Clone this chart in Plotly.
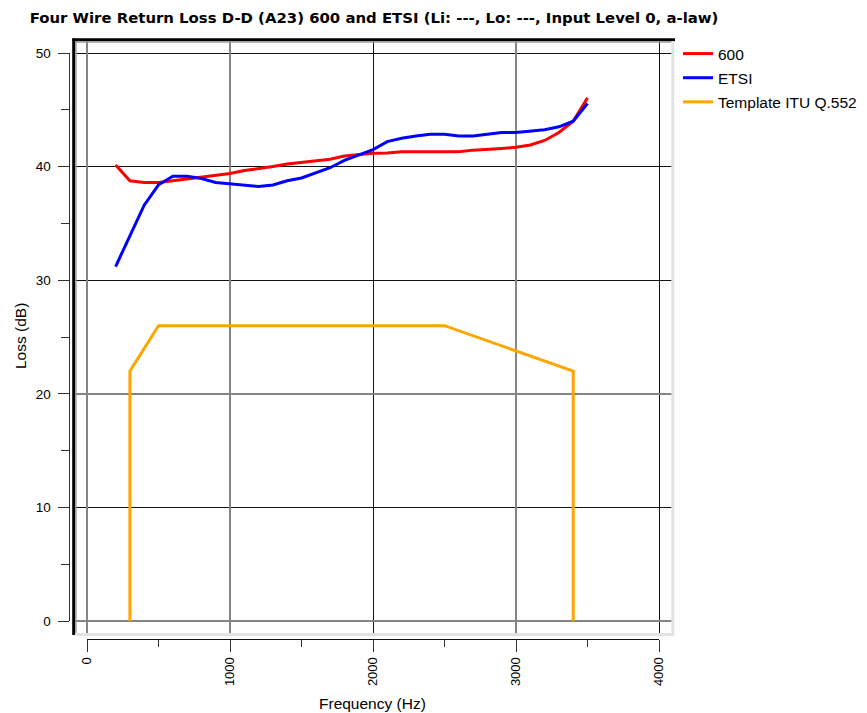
import plotly.graph_objects as go

# The page body has an 8px margin; the figure is sized to fill the rest of the window
OFF = 8
W, H = 867 - OFF, 713 - OFF

freq = [200, 300, 400, 500, 600, 700, 800, 900, 1000, 1100, 1200, 1300, 1400, 1500,
        1600, 1700, 1800, 1900, 2000, 2100, 2200, 2300, 2400, 2500, 2600, 2700, 2800,
        2900, 3000, 3100, 3200, 3300, 3400, 3500]
loss_600 = [40.15, 38.75, 38.6, 38.6, 38.75, 38.9, 39.1, 39.25, 39.4, 39.65, 39.8, 40.0,
            40.23, 40.38, 40.5, 40.64, 40.93, 41.05, 41.17, 41.2, 41.3, 41.3, 41.3, 41.3,
            41.3, 41.45, 41.5, 41.6, 41.7, 41.9, 42.3, 43.0, 44.0, 46.05]
loss_etsi = [31.2, 33.9, 36.6, 38.4, 39.15, 39.15, 38.95, 38.6, 38.5, 38.38, 38.25, 38.38,
             38.75, 39.0, 39.47, 39.9, 40.55, 41.05, 41.5, 42.2, 42.5, 42.7, 42.85, 42.85,
             42.7, 42.7, 42.85, 43.0, 43.0, 43.1, 43.25, 43.5, 44.0, 45.55]
tmpl_f = [300, 300, 500, 2500, 3400, 3400]
tmpl_l = [0, 22, 26, 26, 22, 0]

x_ticks = [0, 1000, 2000, 3000, 4000]
y_ticks = [0, 10, 20, 30, 40, 50]
x_minor = [500, 1500, 2500, 3500]
y_minor = [5, 15, 25, 35, 45]
# grid lines that render dark vs. soft grey in the reference
x_grid_dark = [2000, 4000]
x_grid_soft = [0, 1000, 3000]
y_grid_dark = [10, 30, 40, 50]
y_grid_soft = [0, 20]

FONT = "Liberation Sans, Arial, sans-serif"
TFONT = "DejaVu Sans, Liberation Sans, sans-serif"

def px_x(p):
    return (p - OFF) / W

def px_y(p):
    return 1 - (p - OFF) / H

# plot frame (window pixels)
L, R, T, B = 73, 672, 39, 634
x0p, x4p = 87, 659   # pixel of 0 Hz and 4000 Hz
y0p, y50p = 621, 53  # pixel of 0 dB and 50 dB
sx = (x4p - x0p) / 4000.0
sy = (y0p - y50p) / 50.0
xr = [(L - x0p) / sx, (R - x0p) / sx]
yr = [-(B - y0p) / sy, 50 + (y50p - T) / sy]

fig = go.Figure()
fig.add_trace(go.Scatter(x=freq, y=loss_600, mode="lines", name="600",
                         line=dict(color="#ff0000", width=3), legendgroup="a"))
fig.add_trace(go.Scatter(x=freq, y=loss_etsi, mode="lines", name="ETSI",
                         line=dict(color="#0000ff", width=3), legendgroup="b"))
fig.add_trace(go.Scatter(x=tmpl_f, y=tmpl_l, mode="lines", name="Template ITU Q.552",
                         line=dict(color="#ffa500", width=3), legendgroup="c"))
# dummy traces to host the offset tick axes and the soft grid overlay
fig.add_trace(go.Scatter(x=[None], y=[None], xaxis="x2", yaxis="y2",
                         showlegend=False, hoverinfo="skip"))
fig.add_trace(go.Scatter(x=[None], y=[None], xaxis="x3", yaxis="y3",
                         showlegend=False, hoverinfo="skip"))

base = dict(zeroline=False, showline=False, ticks="", showticklabels=False, fixedrange=True)

fig.update_layout(
    width=W, height=H, autosize=False,
    margin=dict(l=0, r=0, t=0, b=0, pad=0, autoexpand=False),
    paper_bgcolor="white", plot_bgcolor="rgba(0,0,0,0)",
    font=dict(family=FONT, size=13, color="black"),
    xaxis=dict(domain=[px_x(L), px_x(R)], range=xr, tickvals=x_grid_dark,
               showgrid=True, gridcolor="#111111", gridwidth=1, **base),
    yaxis=dict(domain=[px_y(B), px_y(T)], range=yr, tickvals=y_grid_dark,
               showgrid=True, gridcolor="#111111", gridwidth=1, **base),
    xaxis3=dict(overlaying="x", range=xr, tickvals=x_grid_soft, anchor="y3",
                showgrid=True, gridcolor="#858585", gridwidth=2, **base),
    yaxis3=dict(overlaying="y", range=yr, tickvals=y_grid_soft, anchor="x3",
                showgrid=True, gridcolor="#858585", gridwidth=2, **base),
    xaxis2=dict(domain=[px_x(x0p), px_x(x4p)], range=[0, 4000], anchor="free",
                position=px_y(639), showline=True, linecolor="#111", linewidth=1,
                ticks="outside", ticklen=12, tickcolor="#333", tickwidth=1,
                tickvals=x_ticks, ticktext=[str(v) for v in x_ticks], tickangle=-90,
                minor=dict(tickvals=x_minor, ticks="outside", ticklen=7, tickcolor="#333"),
                showgrid=False, zeroline=False, fixedrange=True, automargin=False,
                tickfont=dict(size=13, color="black")),
    yaxis2=dict(domain=[px_y(y0p), px_y(y50p)], range=[0, 50], anchor="free",
                position=px_x(68.5), showline=True, linecolor="#333", linewidth=1,
                ticks="outside", ticklen=11, tickcolor="#333", tickwidth=1,
                tickvals=y_ticks, ticktext=[str(v) for v in y_ticks],
                ticklabelstandoff=4,
                minor=dict(tickvals=y_minor, ticks="outside", ticklen=8, tickcolor="#333"),
                showgrid=False, zeroline=False, fixedrange=True, automargin=False,
                tickfont=dict(size=13.5, color="black")),
    title=dict(text="<b>Four Wire Return Loss D-D (A23) 600 and ETSI (Li: ---, Lo: ---, Input Level 0, a-law)</b>",
               x=px_x(374), xanchor="center", y=px_y(18), yanchor="middle",
               xref="paper", yref="paper", automargin=False,
               font=dict(family=TFONT, size=14.9, color="black")),
    legend=dict(x=px_x(678), xanchor="left", y=px_y(37), yanchor="top",
                bgcolor="rgba(0,0,0,0)", borderwidth=0, tracegroupgap=1,
                traceorder="grouped", font=dict(family=FONT, size=15.5, color="black")),
    showlegend=True,
)

fig.add_annotation(text="Frequency (Hz)", x=px_x(372), y=px_y(703), xref="paper", yref="paper",
                   showarrow=False, xanchor="center", yanchor="middle",
                   font=dict(family=FONT, size=15.5, color="black"))
fig.add_annotation(text="Loss (dB)", x=px_x(20), y=px_y(336), xref="paper", yref="paper",
                   showarrow=False, textangle=-90, xanchor="center", yanchor="middle",
                   font=dict(family=FONT, size=15.5, color="black"))

shapes = [
    # thick black left and top borders
    dict(type="line", x0=px_x(73.7), x1=px_x(73.7), y0=px_y(38.5), y1=px_y(635), line=dict(color="black", width=3)),
    dict(type="line", x0=px_x(72.3), x1=px_x(675), y0=px_y(39.7), y1=px_y(39.7), line=dict(color="black", width=3)),
    # inner gray
    dict(type="line", x0=px_x(75.9), x1=px_x(75.9), y0=px_y(41), y1=px_y(633), line=dict(color="#9a9a9a", width=1.5)),
    dict(type="line", x0=px_x(75), x1=px_x(671), y0=px_y(41.9), y1=px_y(41.9), line=dict(color="#9a9a9a", width=1.5)),
    # light gray right and bottom
    dict(type="line", x0=px_x(672.8), x1=px_x(672.8), y0=px_y(41), y1=px_y(636), line=dict(color="#e3e3e3", width=3)),
    dict(type="line", x0=px_x(75), x1=px_x(674), y0=px_y(634.5), y1=px_y(634.5), line=dict(color="#e3e3e3", width=3)),
]
for s in shapes:
    s.update(xref="paper", yref="paper", layer="above")
fig.update_layout(shapes=shapes)

fig.write_html("out.html")
